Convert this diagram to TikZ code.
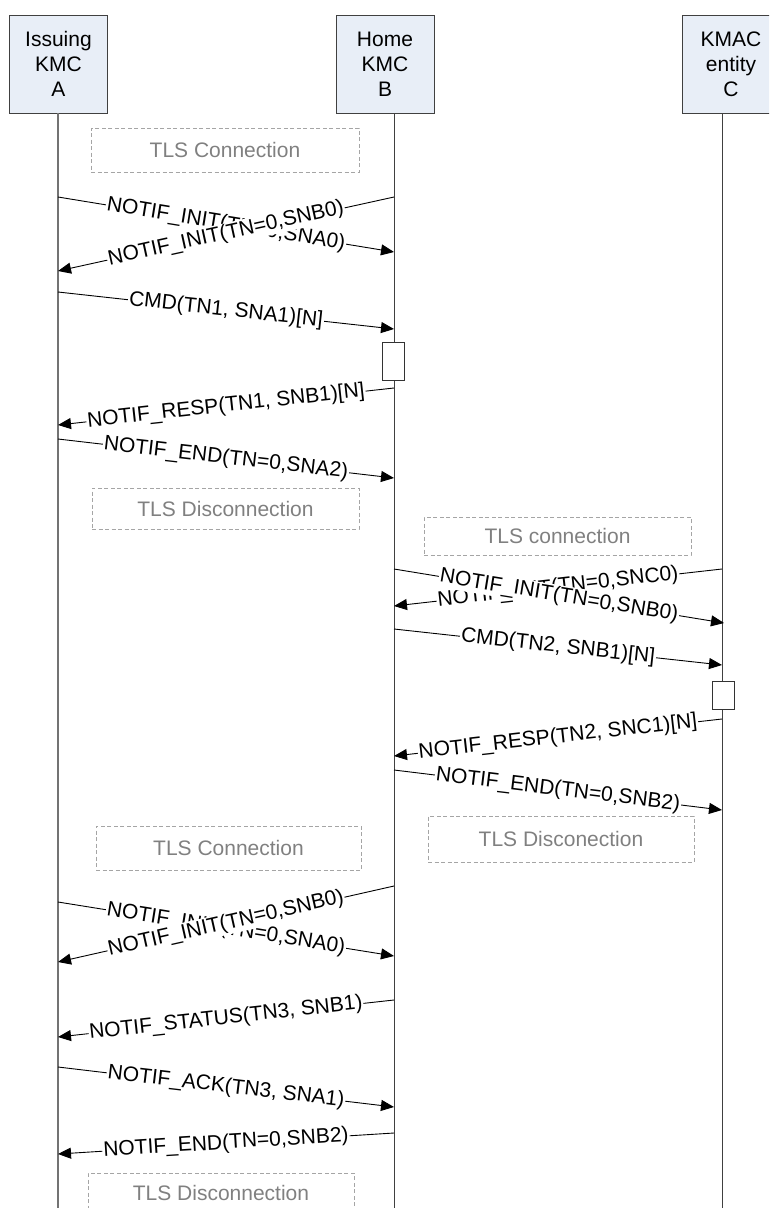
\documentclass[tikz,border=0pt]{standalone}
\usepackage{fontspec}
\setmainfont{Liberation Sans}
\usetikzlibrary{arrows.meta}
\definecolor{boxfill}{RGB}{232,238,247}
\definecolor{tlsgray}{RGB}{128,128,128}
\definecolor{tlsline}{RGB}{165,165,165}
\begin{document}
\begin{tikzpicture}[x=1pt,y=-1pt,
  font=\fontsize{21}{25}\selectfont,
  actor/.style={draw=black!75, fill=boxfill, minimum width=98pt, minimum height=98pt, align=center, inner sep=0pt, line width=0.9pt},
  tlsbox/.style={draw=tlsline, dashed, dash pattern=on 4pt off 2.5pt, text=tlsgray, inner sep=0pt, line width=0.8pt},
  actbox/.style={draw=black!80, fill=white, minimum width=22pt, inner sep=0pt, line width=0.8pt},
  msg/.style={line width=0.9pt, -{Triangle[length=13pt,width=11pt]}},
  lbl/.style={sloped, fill=white, inner sep=1pt, midway},
  life/.style={line width=1pt, draw=black!75}]

\useasboundingbox (0,0) rectangle (769,1208);
\clip (0,0) rectangle (769,1208);

% actors
\node[actor] (A) at (58.5,64) {Issuing\\KMC\\A};
\node[actor] (B) at (385,64) {Home\\KMC\\B};
\node[actor] (C) at (731,64) {KMAC\\entity\\C};

% lifelines
\coordinate (At) at (58,113);  \coordinate (Ab) at (58,1210);
\coordinate (Bt) at (394,113); \coordinate (Bb) at (394,1210);
\coordinate (Ct) at (722,113); \coordinate (Cb) at (722,1210);
\draw[life, draw=black!55, line width=1.5pt] (At) -- (Ab);
\draw[life] (Bt) -- (Bb);
\draw[life] (Ct) -- (Cb);

% TLS boxes
\node[tlsbox, minimum width=268pt, minimum height=44pt] (t1) at (225,150) {TLS Connection};
\node[tlsbox, minimum width=267pt, minimum height=41pt] (t2) at (225.5,508.5) {TLS Disconnection};
\node[tlsbox, minimum width=267pt, minimum height=38pt] (t3) at (557.5,536) {TLS connection};
\node[tlsbox, minimum width=266pt, minimum height=46pt] (t4) at (561,839) {TLS Disconection};
\node[tlsbox, minimum width=265pt, minimum height=44pt] (t5) at (228.5,848) {TLS Connection};
\node[tlsbox, minimum width=266pt, minimum height=40pt] (t6) at (221,1193) {TLS Disconnection};

% activation boxes
\node[actbox, minimum height=38pt] (act1) at (393,361) {};
\node[actbox, minimum height=28pt] (act2) at (723,695) {};

% message end points
\coordinate (a1) at (58,197);  \coordinate (b1) at (394,252);
\coordinate (b2) at (394,197); \coordinate (a2) at (58,271);
\coordinate (a3) at (58,292);  \coordinate (b3) at (394,329);
\coordinate (b4) at (394,388); \coordinate (a4) at (58,425);
\coordinate (a5) at (58,439);  \coordinate (b5) at (394,478);
\coordinate (c6) at (722,569); \coordinate (b6) at (394,606);
\coordinate (b7) at (394,569); \coordinate (c7) at (724,623);
\coordinate (b8) at (394,629); \coordinate (c8) at (722,665);
\coordinate (c9) at (722,719); \coordinate (b9) at (394,756);
\coordinate (b10) at (394,770); \coordinate (c10) at (722,810);
\coordinate (a11) at (58,902); \coordinate (b11) at (394,956);
\coordinate (b12) at (394,886); \coordinate (a12) at (58,962);
\coordinate (b13) at (394,1000); \coordinate (a13) at (58,1037);
\coordinate (a14) at (58,1067); \coordinate (b14) at (394,1107);
\coordinate (b15) at (394,1133); \coordinate (a15) at (58,1154);

% messages
\draw[msg] (a1) -- node[lbl] {NOTIF\_INIT(TN=0,SNA0)} (b1);
\draw[msg] (b2) -- node[lbl] {NOTIF\_INIT(TN=0,SNB0)} (a2);
\draw[msg] (a3) -- node[lbl] {CMD(TN1, SNA1)[N]} (b3);
\draw[msg] (b4) -- node[lbl] {NOTIF\_RESP(TN1, SNB1)[N]} (a4);
\draw[msg] (a5) -- node[lbl] {NOTIF\_END(TN=0,SNA2)} (b5);

\draw[msg] (c6) -- node[lbl] {NOTIF\_INIT(TN=0,SNC0)} (b6);
\draw[msg] (b7) -- node[lbl] {NOTIF\_INIT(TN=0,SNB0)} (c7);
\draw[msg] (b8) -- node[lbl] {CMD(TN2, SNB1)[N]} (c8);
\draw[msg] (c9) -- node[lbl] {NOTIF\_RESP(TN2, SNC1)[N]} (b9);
\draw[msg] (b10) -- node[lbl] {NOTIF\_END(TN=0,SNB2)} (c10);

\draw[msg] (a11) -- node[lbl] {NOTIF\_INIT(TN=0,SNA0)} (b11);
\draw[msg] (b12) -- node[lbl] {NOTIF\_INIT(TN=0,SNB0)} (a12);
\draw[msg] (b13) -- node[lbl] {NOTIF\_STATUS(TN3, SNB1)} (a13);
\draw[msg] (a14) -- node[lbl] {NOTIF\_ACK(TN3, SNA1)} (b14);
\draw[msg] (b15) -- node[lbl] {NOTIF\_END(TN=0,SNB2)} (a15);
\end{tikzpicture}
\end{document}
